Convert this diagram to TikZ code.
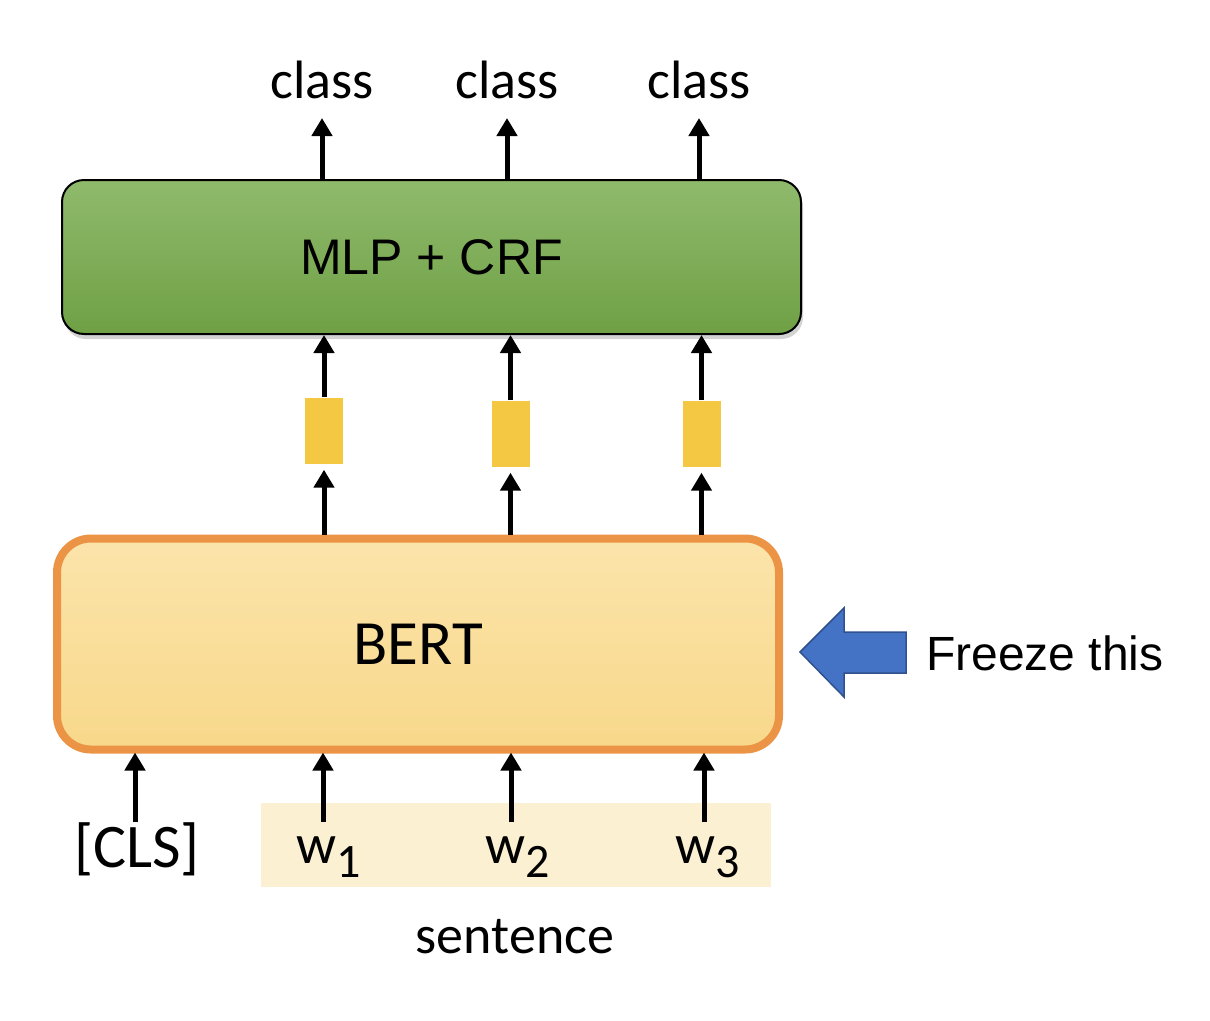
\documentclass[tikz,border=0pt]{standalone}
\usepackage{fontspec}
\setmainfont{Carlito}
\newfontfamily\arialf{Liberation Sans}
\usetikzlibrary{arrows.meta,shadows}
\definecolor{greenTop}{HTML}{8FBA6C}
\definecolor{greenBot}{HTML}{6FA045}
\definecolor{vecY}{HTML}{F5C843}
\definecolor{bertTop}{HTML}{FBE4AB}
\definecolor{bertBot}{HTML}{F8D88A}
\definecolor{bertLine}{HTML}{EC9445}
\definecolor{band}{HTML}{FCF0D2}
\definecolor{blueF}{HTML}{4472C4}
\definecolor{blueD}{HTML}{2F528F}
\tikzset{
  arr/.style={line width=5pt,-{Triangle[length=18pt,width=20pt]}},
  lbl/.style={inner sep=0pt,font=\fontsize{54}{60}\selectfont},
  vecbox/.style={fill=vecY,minimum width=38pt,minimum height=66pt,inner sep=0pt},
  mlpbox/.style={draw=black,line width=2pt,rounded corners=22pt,top color=greenTop,bottom color=greenBot,
    minimum width=739pt,minimum height=154pt,inner sep=0pt,
    drop shadow={shadow xshift=2pt,shadow yshift=-5pt,opacity=0.35}},
  bertbox/.style={draw=bertLine,line width=8pt,rounded corners=34pt,top color=bertTop,bottom color=bertBot,
    minimum width=722pt,minimum height=211pt,inner sep=0pt}
}
\begin{document}
\begin{tikzpicture}[x=1pt,y=-1pt]
\path[use as bounding box] (0,0) rectangle (1210,1020);
% sentence band
\fill[band] (261,803) rectangle (771,887);
% boxes
\node[mlpbox] (mlp) at (431.5,257) {\arialf\fontsize{50}{55}\selectfont MLP + CRF};
\node[bertbox] (bert) at (418,644) {\fontsize{63}{70}\selectfont BERT};
% vectors
\node[vecbox] (v1) at (324,430.5) {};
\node[vecbox] (v2) at (510.5,433.5) {};
\node[vecbox] (v3) at (701.5,433.5) {};
% class labels
\node[lbl,anchor=base] (c1) at (322,98) {class};
\node[lbl,anchor=base] (c2) at (507,98) {class};
\node[lbl,anchor=base] (c3) at (699,98) {class};
% inputs
\node[inner sep=0pt,font=\fontsize{62}{68}\selectfont] (cls) at (137,849) {[CLS]};
\node[inner sep=0pt,anchor=base west,font=\fontsize{56}{62}\selectfont] (w1) at (296,863) {w\raisebox{-14pt}{\fontsize{48}{50}\selectfont 1}};
\node[inner sep=0pt,anchor=base west,font=\fontsize{56}{62}\selectfont] (w2) at (485,863) {w\raisebox{-14pt}{\fontsize{48}{50}\selectfont 2}};
\node[inner sep=0pt,anchor=base west,font=\fontsize{56}{62}\selectfont] (w3) at (675,863) {w\raisebox{-14pt}{\fontsize{48}{50}\selectfont 3}};
\node[lbl] (sent) at (515,937) {sentence};
% freeze label
\node[inner sep=0pt,anchor=base west,font=\arialf\fontsize{48}{54}\selectfont] (frz) at (926,670) {Freeze this};
% blue arrow
\draw[blueD,fill=blueF,line width=1.5pt,line join=miter]
  (800,652) -- (844,608) -- (844,632) -- (906,632) -- (906,673) -- (844,673) -- (844,697) -- cycle;
% top arrows
\draw[arr,shorten >=20pt] (mlp.north -| c1) -- (c1.base);
\draw[arr,shorten >=20pt] (mlp.north -| c2) -- (c2.base);
\draw[arr,shorten >=20pt] (mlp.north -| c3) -- (c3.base);
% vec to mlp
\draw[arr] (v1.north) -- (v1.north |- mlp.south);
\draw[arr] (v2.north) -- (v2.north |- mlp.south);
\draw[arr] (v3.north) -- (v3.north |- mlp.south);
% bert to vec
\draw[arr,shorten >=6pt] (bert.north -| v1) -- (v1.south);
\draw[arr,shorten >=6pt] (bert.north -| v2) -- (v2.south);
\draw[arr,shorten >=6pt] (bert.north -| v3) -- (v3.south);
% inputs to bert
\coordinate (i0) at (135,822);
\coordinate (i1) at (323,822);
\coordinate (i2) at (511,822);
\coordinate (i3) at (704,822);
\draw[arr,shorten >=-1pt] (i0) -- (i0 |- bert.south);
\draw[arr,shorten >=-1pt] (i1) -- (i1 |- bert.south);
\draw[arr,shorten >=-1pt] (i2) -- (i2 |- bert.south);
\draw[arr,shorten >=-1pt] (i3) -- (i3 |- bert.south);
\end{tikzpicture}
\end{document}
